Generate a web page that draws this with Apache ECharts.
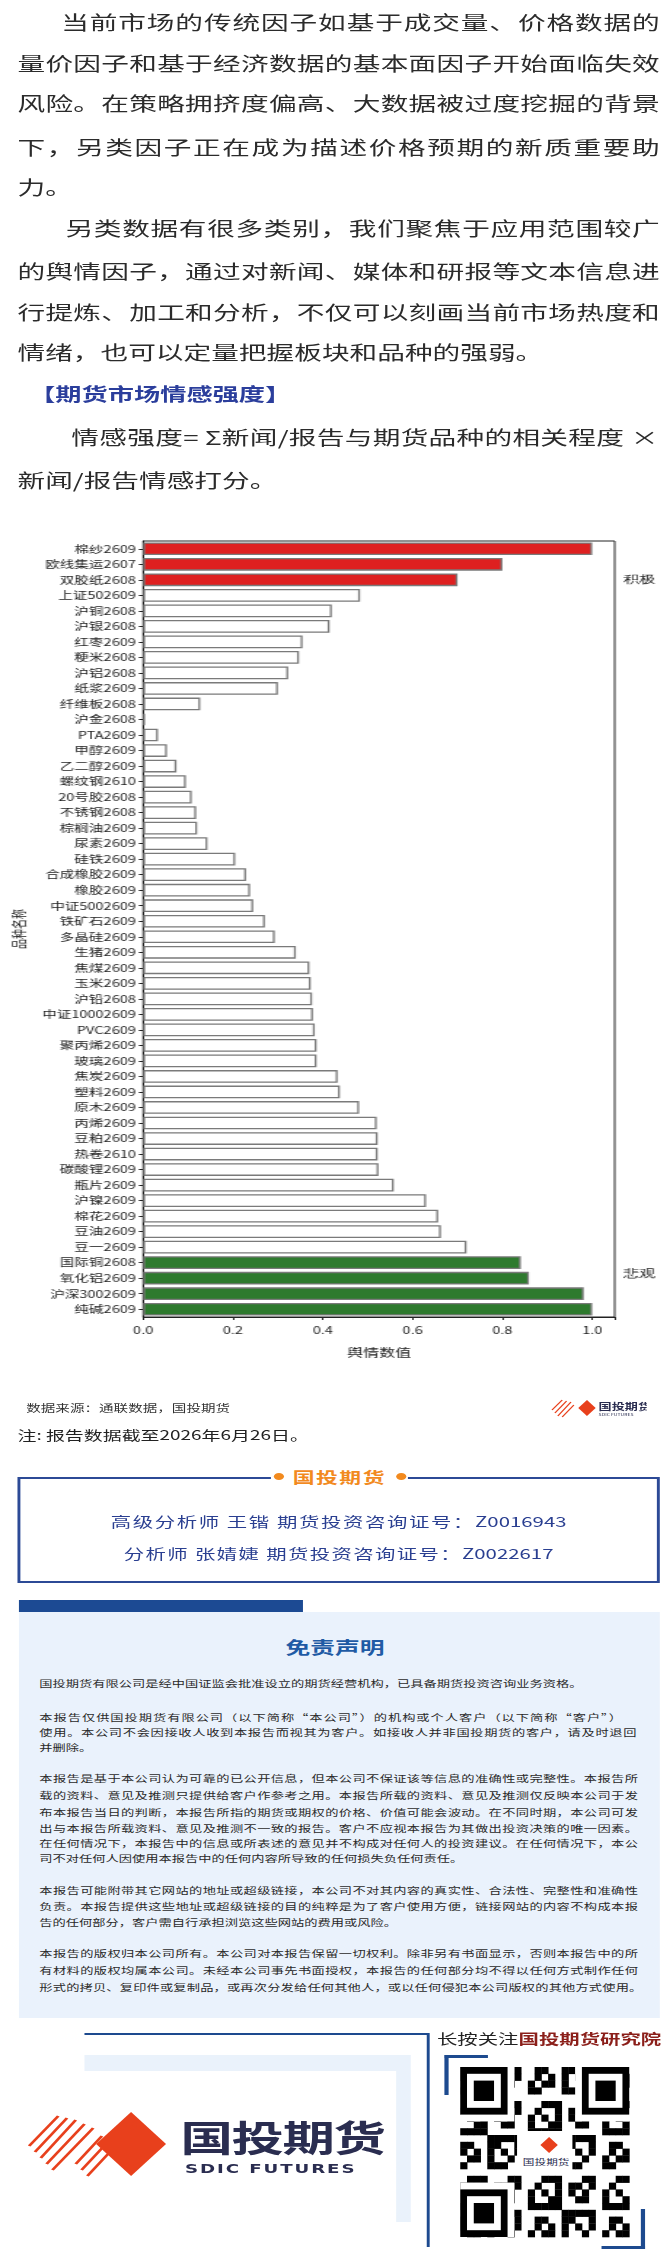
<!DOCTYPE html>
<html><head><meta charset="utf-8">
<script src="https://cdn.jsdelivr.net/npm/echarts@6/dist/echarts.min.js"></script>
<style>
html,body{margin:0;padding:0;background:#fff;overflow:hidden;}
#page{position:absolute;left:0;top:0;width:460px;height:2257px;transform:scaleX(1.4565);transform-origin:0 0;font-family:"Noto Sans CJK SC","Noto Sans",sans-serif;color:#333;}
.a{position:absolute;white-space:nowrap;}
.j{text-align:justify;text-align-last:justify;}
.in{font-size:19px;line-height:30px;color:#2b2b2b;}
.dc{font-size:9.1px;line-height:16px;color:#2a2a2a;left:27px;}
</style></head><body>
<div id="page">
<div class="a in j" style="left:42px;width:411px;top:7px">当前市场的传统因子如基于成交量、价格数据的</div>
<div class="a in j" style="left:12px;width:441px;top:48px">量价因子和基于经济数据的基本面因子开始面临失效</div>
<div class="a in j" style="left:12px;width:441px;top:88px">风险。在策略拥挤度偏高、大数据被过度挖掘的背景</div>
<div class="a in j" style="left:12px;width:441px;top:132px">下，另类因子正在成为描述价格预期的新质重要助</div>
<div class="a in" style="left:12px;top:172px">力。</div>
<div class="a in j" style="left:45px;width:408px;top:213px">另类数据有很多类别，我们聚焦于应用范围较广</div>
<div class="a in j" style="left:12px;width:441px;top:256px">的舆情因子，通过对新闻、媒体和研报等文本信息进</div>
<div class="a in j" style="left:12px;width:441px;top:297px">行提炼、加工和分析，不仅可以刻画当前市场热度和</div>
<div class="a in" style="left:12px;top:337px">情绪，也可以定量把握板块和品种的强弱。</div>
<div class="a" style="left:20px;top:378px;font-size:18px;line-height:30px;font-weight:bold;color:#2b3e9c">【期货市场情感强度】</div>
<div class="a in j" style="left:49px;width:403px;top:422px">情感强度= Σ新闻/报告与期货品种的相关程度 ×</div>
<div class="a in" style="left:12px;top:465px">新闻/报告情感打分。</div>

<div id="chart" class="a" style="left:0;top:530px;width:460px;height:840px"></div>

<div class="a" style="left:18px;top:1400px;font-size:10px;color:#333">数据来源：通联数据，国投期货</div>
<svg class="a" style="left:378px;top:1396px" width="66" height="24" viewBox="0 0 66 24">
<g stroke="#e8401c" stroke-width="1"><line x1="1" y1="14" x2="8" y2="4"/><line x1="3" y1="17" x2="11" y2="5"/><line x1="5" y1="20" x2="14" y2="6"/><line x1="8" y1="21" x2="16" y2="9"/></g>
<polygon points="19,12 25,4 31,12 25,20" fill="#e8401c"/>
<text x="33" y="14" font-size="9" font-weight="bold" fill="#2a2d50">国投期货</text>
<text x="33" y="20" font-size="3.5" fill="#2a2d50">SDIC FUTURES</text></svg>
<div class="a" style="left:12px;top:1425px;font-size:13px;line-height:20px;color:#222">注: 报告数据截至2026年6月26日。</div>

<div class="a" style="left:12px;top:1477px;width:441px;height:106px;border:2px solid #2c4a96;box-sizing:border-box"></div>
<div class="a" style="left:186px;top:1465px;width:94px;height:24px;background:#fff"></div>
<div class="a" style="left:188px;top:1473px;width:7px;height:7px;border-radius:50%;background:#f28a1e"></div>
<div class="a" style="left:272px;top:1473px;width:7px;height:7px;border-radius:50%;background:#f28a1e"></div>
<div class="a" style="left:201px;top:1465px;font-size:15px;line-height:24px;font-weight:bold;color:#f28a1e;letter-spacing:1px">国投期货</div>
<div class="a j" style="left:76px;width:313px;top:1510px;font-size:14px;line-height:22px;color:#2a3f91">高级分析师 王锴 期货投资咨询证号：Z0016943</div>
<div class="a j" style="left:85px;width:295px;top:1542px;font-size:14px;line-height:22px;color:#2a3f91">分析师 张婧婕 期货投资咨询证号：Z0022617</div>

<div class="a" style="left:13px;top:1600px;width:195px;height:12px;background:#1c4a93"></div>
<div class="a" style="left:13px;top:1612px;width:440px;height:406px;background:#eaf2fc"></div>
<div class="a" style="left:0;width:460px;text-align:center;top:1634px;font-size:17px;line-height:26px;font-weight:bold;color:#1f5ba5">免责声明</div>
<div class="a dc" style="top:1675px">国投期货有限公司是经中国证监会批准设立的期货经营机构，已具备期货投资咨询业务资格。</div>
<div class="a dc j" style="top:1709px;width:400px">本报告仅供国投期货有限公司（以下简称“本公司”）的机构或个人客户（以下简称“客户”）</div>
<div class="a dc j" style="top:1724px;width:410px">使用。本公司不会因接收人收到本报告而视其为客户。如接收人并非国投期货的客户，请及时退回</div>
<div class="a dc" style="top:1739px">并删除。</div>
<div class="a dc j" style="top:1770px;width:411px">本报告是基于本公司认为可靠的已公开信息，但本公司不保证该等信息的准确性或完整性。本报告所</div>
<div class="a dc j" style="top:1787px;width:411px">载的资料、意见及推测只提供给客户作参考之用。本报告所载的资料、意见及推测仅反映本公司于发</div>
<div class="a dc j" style="top:1804px;width:411px">布本报告当日的判断，本报告所指的期货或期权的价格、价值可能会波动。在不同时期，本公司可发</div>
<div class="a dc j" style="top:1820px;width:411px">出与本报告所载资料、意见及推测不一致的报告。客户不应视本报告为其做出投资决策的唯一因素。</div>
<div class="a dc j" style="top:1835px;width:411px">在任何情况下，本报告中的信息或所表述的意见并不构成对任何人的投资建议。在任何情况下，本公</div>
<div class="a dc" style="top:1850px">司不对任何人因使用本报告中的任何内容所导致的任何损失负任何责任。</div>
<div class="a dc j" style="top:1882px;width:411px">本报告可能附带其它网站的地址或超级链接，本公司不对其内容的真实性、合法性、完整性和准确性</div>
<div class="a dc j" style="top:1898px;width:411px">负责。本报告提供这些地址或超级链接的目的纯粹是为了客户使用方便，链接网站的内容不构成本报</div>
<div class="a dc" style="top:1914px">告的任何部分，客户需自行承担浏览这些网站的费用或风险。</div>
<div class="a dc j" style="top:1945px;width:411px">本报告的版权归本公司所有。本公司对本报告保留一切权利。除非另有书面显示，否则本报告中的所</div>
<div class="a dc j" style="top:1962px;width:411px">有材料的版权均属本公司。未经本公司事先书面授权，本报告的任何部分均不得以任何方式制作任何</div>
<div class="a dc j" style="top:1979px;width:414px">形式的拷贝、复印件或复制品，或再次分发给任何其他人，或以任何侵犯本公司版权的其他方式使用。</div>

<div class="a" style="left:58px;top:2033px;width:236px;height:2px;background:#1d4a8f"></div>
<div class="a" style="left:293px;top:2033px;width:2px;height:214px;background:#1d4a8f"></div>
<div class="a" style="left:58px;top:2055px;width:224px;height:167px;background:#eaf2fb"></div>
<div class="a" style="left:20px;top:2071px;width:252px;height:151px;background:#fff"></div>
<svg class="a" style="left:18px;top:2108px" width="100" height="74" viewBox="0 0 100 74">
<g stroke="#e8401c" stroke-width="2.2">
<line x1="2" y1="38" x2="22" y2="8"/><line x1="6" y1="44" x2="28" y2="10"/><line x1="10" y1="50" x2="34" y2="12"/><line x1="14" y1="56" x2="40" y2="16"/><line x1="18" y1="62" x2="46" y2="20"/>
<line x1="34" y1="56" x2="52" y2="28"/><line x1="38" y1="62" x2="56" y2="34"/><line x1="42" y1="68" x2="60" y2="40"/></g>
<polygon points="48,36 72,4 96,36 72,68" fill="#e8401c"/></svg>
<div class="a" style="left:124px;top:2110px;font-size:36px;line-height:52px;font-weight:bold;color:#2a2d50;letter-spacing:-1px">国投期货</div>
<div class="a" style="left:127px;top:2160px;font-size:12.5px;line-height:18px;font-weight:bold;color:#2a2d50;letter-spacing:1.3px;font-family:'DejaVu Sans',sans-serif">SDIC FUTURES</div>
<div class="a" style="left:300px;top:2027px;font-size:14px;line-height:22px;color:#222">长按关注<b style="color:#8b1f1a">国投期货研究院</b></div>
<svg id="qr" class="a" style="left:305px;top:2055px" width="138" height="194"></svg>
</div>
<script>
// ---- data ----
const categories = ["棉纱2609","欧线集运2607","双胶纸2608","上证502609","沪铜2608","沪银2608","红枣2609","粳米2608","沪铝2608","纸浆2609","纤维板2608","沪金2608","PTA2609","甲醇2609","乙二醇2609","螺纹钢2610","20号胶2608","不锈钢2608","棕榈油2609","尿素2609","硅铁2609","合成橡胶2609","橡胶2609","中证5002609","铁矿石2609","多晶硅2609","生猪2609","焦煤2609","玉米2609","沪铅2608","中证10002609","PVC2609","聚丙烯2609","玻璃2609","焦炭2609","塑料2609","原木2609","丙烯2609","豆粕2609","热卷2610","碳酸锂2609","瓶片2609","沪镍2609","棉花2609","豆油2609","豆一2609","国际铜2608","氧化铝2609","沪深3002609","纯碱2609"];
const values = [1.0,0.80,0.70,0.483,0.42,0.415,0.355,0.347,0.323,0.30,0.127,0.004,0.033,0.053,0.074,0.095,0.108,0.118,0.12,0.143,0.205,0.229,0.238,0.245,0.271,0.293,0.34,0.37,0.373,0.376,0.378,0.382,0.386,0.386,0.433,0.438,0.481,0.52,0.522,0.522,0.524,0.558,0.63,0.657,0.663,0.72,0.841,0.859,0.981,1.0];
const positiveCount = 3;   // top rows: 积极
const negativeCount = 4;   // bottom rows: 悲观
const sideLabels = ["积极","悲观"];
const xTicks = [0,0.2,0.4,0.6,0.8,1.0];

const chart = echarts.init(document.getElementById('chart'), null, {renderer:'canvas'});
const n = categories.length;
const data = values.map((v,i)=>({value:v,itemStyle:{color: i<positiveCount?'#de2020':(i>=n-negativeCount?'#2e7a2e':'#ffffff')}}));
chart.setOption({
  animation:false,
  textStyle:{fontFamily:'"Noto Sans CJK SC",sans-serif'},
  grid:{left:96,right:38,top:11,height:776,show:true,borderColor:'#222',borderWidth:1,backgroundColor:'transparent'},
  xAxis:{type:'value',min:0,max:1.05,interval:0.2,
    axisLine:{show:true,lineStyle:{color:'#222'}},axisTick:{show:true,length:3,lineStyle:{color:'#222'}},splitLine:{show:false},
    axisLabel:{color:'#222',fontSize:10,margin:8,formatter:v=>xTicks.includes(+v.toFixed(1))?v.toFixed(1):''},
    name:'舆情数值',nameLocation:'middle',nameGap:30,nameTextStyle:{color:'#222',fontSize:11}},
  yAxis:{type:'category',data:categories,inverse:true,
    axisLine:{show:true,lineStyle:{color:'#222'}},axisTick:{show:true,length:3,alignWithLabel:true,lineStyle:{color:'#222'}},
    axisLabel:{color:'#222',fontSize:10,margin:5,interval:0},
    name:'品种名称',nameLocation:'middle',nameGap:76,nameRotate:90,nameTextStyle:{color:'#222',fontSize:10}},
  series:[{type:'bar',data:data,barCategoryGap:'18%',itemStyle:{borderColor:'#7a7a7a',borderWidth:1.3}}]
});
const p1 = chart.convertToPixel({xAxisIndex:0,yAxisIndex:0},[1.05,categories[2]]);
const p2 = chart.convertToPixel({xAxisIndex:0,yAxisIndex:0},[1.05,categories[n-2]]);
chart.setOption({graphic:[
  {type:'text',x:p1[0]+6,y:p1[1],style:{text:sideLabels[0],fill:'#222',fontSize:11,verticalAlign:'middle'}},
  {type:'text',x:p2[0]+6,y:p2[1]-20,style:{text:sideLabels[1],fill:'#222',fontSize:11,verticalAlign:'middle'}}
]});

// QR decoration (fixed pattern)
(function(){
  const svg=document.getElementById('qr'); const NS='http://www.w3.org/2000/svg';
  function r(x,y,w,h,f){const e=document.createElementNS(NS,'rect');e.setAttribute('x',x);e.setAttribute('y',y);e.setAttribute('width',w);e.setAttribute('height',h);e.setAttribute('fill',f);svg.appendChild(e);}
  r(0,0,138,194,'#fff');
  r(0,0,3,40,'#1d4a8f');r(0,0,30,3,'#1d4a8f');r(135,154,3,40,'#1d4a8f');r(108,191,30,3,'#1d4a8f');
  const N=25, ox=11, oy=12, cw=116/N, ch=170/N;
  for(let i=0;i<N;i++)for(let j=0;j<N;j++){
    const h=((i*37+j*91+i*j*13)%11);
    if(h<5) r(ox+j*cw,oy+i*ch,cw+0.3,ch+0.3,'#000');
  }
  function finder(cx,cy){r(ox+cx*cw,oy+cy*ch,7*cw,7*ch,'#000');r(ox+(cx+1)*cw,oy+(cy+1)*ch,5*cw,5*ch,'#fff');r(ox+(cx+2)*cw,oy+(cy+2)*ch,3*cw,3*ch,'#000');}
  r(ox,oy,8*cw,8*ch,'#fff');r(ox+17*cw,oy,8*cw,8*ch,'#fff');r(ox,oy+17*ch,8*cw,8*ch,'#fff');
  finder(0,0);finder(18,0);finder(0,18);
  r(50,76,38,42,'#fff');
  const t=document.createElementNS(NS,'text');t.setAttribute('x',54);t.setAttribute('y',110);t.setAttribute('font-size','8');t.setAttribute('fill','#2a2d50');t.textContent='国投期货';svg.appendChild(t);
  const p=document.createElementNS(NS,'polygon');p.setAttribute('points','66,90 72,82 78,90 72,98');p.setAttribute('fill','#e8401c');svg.appendChild(p);
})();
</script>
</body></html>
